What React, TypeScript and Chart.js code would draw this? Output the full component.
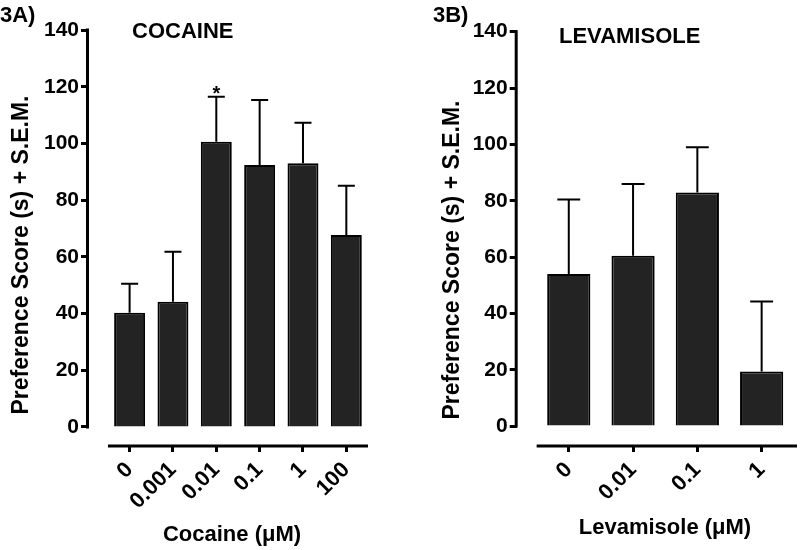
import React, { useEffect, useRef } from "react";
import { Chart, registerables } from "chart.js";

Chart.register(...registerables);

// ---------- data ----------
const cocaineDoses = ["0", "0.001", "0.01", "0.1", "1", "100"];
const cocaineMeans = [40.3, 44.2, 100.6, 92.4, 93.0, 67.7];
const cocaineSem = [10.2, 17.6, 15.9, 22.9, 14.3, 17.4];
const cocaineSignif = ["", "", "*", "", "", ""];

const levamisoleDoses = ["0", "0.01", "0.1", "1"];
const levamisoleMeans = [54.0, 60.5, 82.9, 19.4];
const levamisoleSem = [26.4, 25.4, 16.1, 24.8];
const levamisoleSignif = ["", "", "", ""];

const yTicks = [0, 20, 40, 60, 80, 100, 120, 140];

const FONT = "'Liberation Sans', Arial, Helvetica, sans-serif";

type Panel = {
  labels: string[];
  means: number[];
  sem: number[];
  signif: string[];
  panelLabel: string;
  heading: string;
  xTitle: string;
  yTitle: string;
  barFrac: number;
  xMin: number;
  xMax: number;
  yMin: number;
  padTop: number;
  padRight: number;
  yAxisWidth: number;
  capFrac: number;
  txt: {
    panel: [number, number];
    heading: [number, number];
    xTitle: [number, number];
    yTitle: [number, number];
  };
};

function makeDecor(p: Panel) {
  return {
    id: "decor",
    afterDatasetsDraw(chart: any) {
      const { ctx, scales } = chart;
      const y = scales.y;
      const meta = chart.getDatasetMeta(0);
      ctx.save();
      // error bars (upper only)
      ctx.strokeStyle = "#000";
      ctx.lineWidth = 2;
      meta.data.forEach((bar: any, i: number) => {
        const top = y.getPixelForValue(p.means[i] + p.sem[i]);
        const half = (bar.width * p.capFrac) / 2;
        ctx.beginPath();
        ctx.moveTo(bar.x, bar.y);
        ctx.lineTo(bar.x, top);
        ctx.moveTo(bar.x - half, top);
        ctx.lineTo(bar.x + half, top);
        ctx.stroke();
        if (p.signif[i]) {
          ctx.fillStyle = "#000";
          ctx.font = `bold 20px ${FONT}`;
          ctx.textAlign = "center";
          ctx.textBaseline = "alphabetic";
          ctx.fillText(p.signif[i], bar.x, top + 3);
        }
      });
      ctx.restore();
    },
    afterDraw(chart: any) {
      const { ctx, chartArea, scales } = chart;
      const x = scales.x;
      const y = scales.y;
      ctx.save();
      ctx.strokeStyle = "#000";
      ctx.lineWidth = 3;
      ctx.lineCap = "butt";
      // y axis line
      ctx.beginPath();
      ctx.moveTo(chartArea.left - 0.5, y.getPixelForValue(0) + 1.5);
      ctx.lineTo(chartArea.left - 0.5, y.getPixelForValue(yTicks[yTicks.length - 1]) - 1.5);
      ctx.stroke();
      // x axis line (detached)
      ctx.beginPath();
      ctx.moveTo(x.getPixelForValue(-0.5), chartArea.bottom + 1);
      ctx.lineTo(chartArea.right, chartArea.bottom + 1);
      ctx.stroke();

      ctx.fillStyle = "#000";
      ctx.textBaseline = "alphabetic";
      ctx.textAlign = "left";
      ctx.font = `bold 22px ${FONT}`;
      ctx.fillText(p.panelLabel, p.txt.panel[0], p.txt.panel[1]);
      ctx.fillText(p.heading, p.txt.heading[0], p.txt.heading[1]);

      ctx.textAlign = "center";
      ctx.textBaseline = "middle";
      ctx.fillText(p.xTitle, p.txt.xTitle[0], p.txt.xTitle[1]);

      ctx.save();
      ctx.translate(p.txt.yTitle[0], p.txt.yTitle[1]);
      ctx.rotate(-Math.PI / 2);
      ctx.font = `bold 23px ${FONT}`;
      ctx.fillText(p.yTitle, 0, 0);
      ctx.restore();
      ctx.restore();
    },
  };
}

function makeConfig(p: Panel): any {
  const yTickFont = { family: FONT, size: 21, weight: "bold" as const };
  const xTickFont = { family: FONT, size: 22, weight: "bold" as const };
  const gridOpts = {
    display: true,
    drawOnChartArea: false,
    drawTicks: true,
    tickLength: 7,
    tickWidth: 3,
    tickColor: "#000",
    color: "#000",
    offset: false,
  };
  return {
    type: "bar",
    data: {
      datasets: [
        {
          data: p.means.map((v, i) => ({ x: i, y: v })),
          backgroundColor: "#232323",
          borderColor: "#000",
          borderWidth: 2,
          barPercentage: 1,
          categoryPercentage: p.barFrac,
        },
      ],
    },
    options: {
      animation: false,
      responsive: false,
      devicePixelRatio: 1,
      layout: { padding: { left: 0, right: p.padRight, top: p.padTop, bottom: 0 } },
      plugins: { legend: { display: false }, tooltip: { enabled: false }, title: { display: false } },
      scales: {
        x: {
          type: "linear",
          offset: false,
          min: p.xMin,
          max: p.xMax,
          afterBuildTicks: (s: any) => {
            s.ticks = p.labels.map((_, i) => ({ value: i }));
          },
          afterFit: (s: any) => {
            s.height = 105;
          },
          ticks: {
            autoSkip: false,
            minRotation: 45,
            maxRotation: 45,
            padding: 5,
            color: "#000",
            font: xTickFont,
            callback: (v: any) => p.labels[v],
          },
          grid: gridOpts,
          border: { display: false },
        },
        y: {
          min: p.yMin,
          max: yTicks[yTicks.length - 1],
          afterBuildTicks: (s: any) => {
            s.ticks = yTicks.map((v) => ({ value: v }));
          },
          afterFit: (s: any) => {
            s.width = p.yAxisWidth;
          },
          ticks: { padding: 2, color: "#000", font: yTickFont },
          grid: gridOpts,
          border: { display: false },
        },
      },
    },
    plugins: [makeDecor(p)],
  };
}

const panelA: Panel = {
  labels: cocaineDoses,
  means: cocaineMeans,
  sem: cocaineSem,
  signif: cocaineSignif,
  panelLabel: "3A)",
  heading: "COCAINE",
  xTitle: "Cocaine (\u03bcM)",
  yTitle: "Preference Score (s) + S.E.M.",
  barFrac: 0.714,
  xMin: -0.96,
  xMax: 5.5,
  yMin: -6.35,
  padTop: 30,
  padRight: 32,
  yAxisWidth: 88,
  capFrac: 0.55,
  txt: { panel: [0, 22], heading: [132, 38], xTitle: [232, 535], yTitle: [22, 255] },
};

const panelB: Panel = {
  labels: levamisoleDoses,
  means: levamisoleMeans,
  sem: levamisoleSem,
  signif: levamisoleSignif,
  panelLabel: "3B)",
  heading: "LEVAMISOLE",
  xTitle: "Levamisole (\u03bcM)",
  yTitle: "Preference Score (s) + S.E.M.",
  barFrac: 0.672,
  xMin: -0.81,
  xMax: 3.55,
  yMin: -6.7,
  padTop: 31.7,
  padRight: 3,
  yAxisWidth: 116.7,
  capFrac: 0.53,
  txt: { panel: [33, 22], heading: [159, 43], xTitle: [265, 528], yTitle: [53, 260] },
};

export default function App() {
  const refA = useRef<HTMLCanvasElement>(null);
  const refB = useRef<HTMLCanvasElement>(null);
  useEffect(() => {
    const a = new Chart(refA.current as HTMLCanvasElement, makeConfig(panelA));
    const b = new Chart(refB.current as HTMLCanvasElement, makeConfig(panelB));
    return () => {
      a.destroy();
      b.destroy();
    };
  }, []);
  return (
    <div style={{ position: "absolute", left: 0, top: 0, width: 800, height: 550, background: "#fff" }}>
      <canvas ref={refA} width={400} height={550} style={{ position: "absolute", left: 0, top: 0 }} />
      <canvas ref={refB} width={400} height={550} style={{ position: "absolute", left: 400, top: 0 }} />
    </div>
  );
}
